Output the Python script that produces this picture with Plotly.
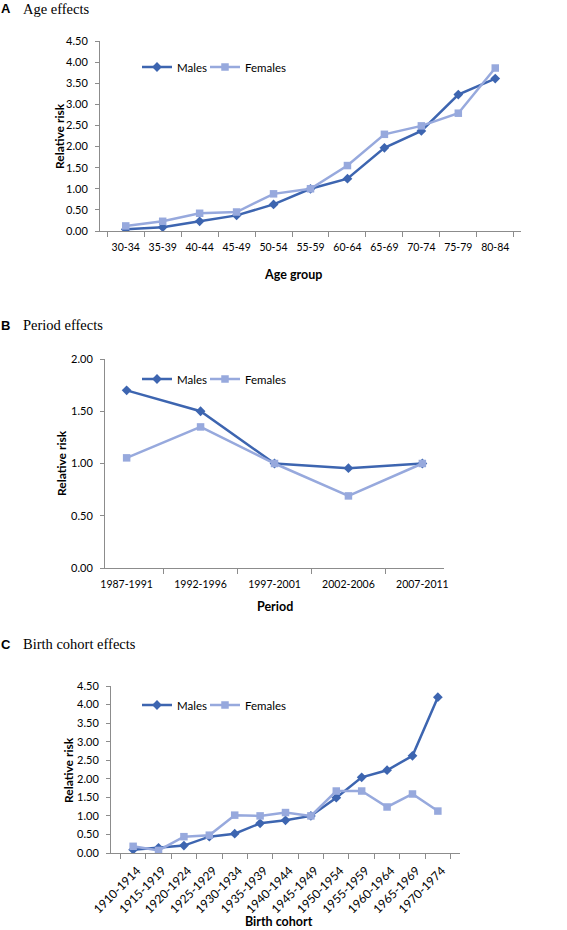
import plotly.graph_objects as go

age_groups = ["30-34", "35-39", "40-44", "45-49", "50-54", "55-59", "60-64", "65-69", "70-74", "75-79", "80-84"]
age_males = [0.04, 0.09, 0.23, 0.37, 0.63, 1.00, 1.24, 1.97, 2.37, 3.23, 3.61]
age_females = [0.12, 0.23, 0.42, 0.45, 0.88, 1.00, 1.55, 2.29, 2.49, 2.79, 3.86]

periods = ["1987-1991", "1992-1996", "1997-2001", "2002-2006", "2007-2011"]
period_males = [1.70, 1.50, 1.00, 0.955, 1.00]
period_females = [1.054, 1.35, 1.00, 0.69, 1.00]

cohorts = ["1910-1914", "1915-1919", "1920-1924", "1925-1929", "1930-1934", "1935-1939", "1940-1944",
           "1945-1949", "1950-1954", "1955-1959", "1960-1964", "1965-1969", "1970-1974"]
cohort_males = [0.09, 0.14, 0.20, 0.44, 0.52, 0.80, 0.88, 1.00, 1.49, 2.04, 2.23, 2.62, 4.20]
cohort_females = [0.18, 0.07, 0.44, 0.48, 1.02, 1.00, 1.09, 1.00, 1.67, 1.67, 1.24, 1.59, 1.13]

MALE = "#3D65B0"
FEMALE = "#97A9DD"
AXIS = "#8C8C8C"
W, H = 567, 930
SANS = "Lato, 'Open Sans', sans-serif"

fig = go.Figure()

panels = [
    ("", age_groups, age_males, age_females, "legend"),
    ("2", periods, period_males, period_females, "legend2"),
    ("3", cohorts, cohort_males, cohort_females, "legend3"),
]
for suf, cats, m, f, leg in panels:
    fig.add_trace(go.Scatter(x=cats, y=m, name="Males", mode="lines+markers",
                             line=dict(color=MALE, width=2.5),
                             marker=dict(symbol="diamond", size=7.5, color=MALE),
                             xaxis="x" + suf, yaxis="y" + suf, legend=leg, legendwidth=23))
    fig.add_trace(go.Scatter(x=cats, y=f, name="Females", mode="lines+markers",
                             line=dict(color=FEMALE, width=2.5),
                             marker=dict(symbol="square", size=7.5, color=FEMALE),
                             xaxis="x" + suf, yaxis="y" + suf, legend=leg, legendwidth=60))


def px_x(p):
    return p / W


def px_y(p):
    return 1 - p / H


def xax(d0, d1, anchor, angle=0, standoff=6, size=10.5, shift=0):
    return dict(domain=[px_x(d0), px_x(d1)], anchor=anchor, type="category", automargin=False,
                showline=True, linecolor=AXIS, linewidth=1, showgrid=False, zeroline=False,
                ticks="outside", tickson="boundaries", ticklen=5, tickcolor=AXIS,
                ticklabelstandoff=standoff, ticklabelshift=shift,
                tickfont=dict(family=SANS, size=size, color="#000"), tickangle=angle)


def yax(d0, d1, anchor, ymax):
    return dict(domain=[px_y(d1), px_y(d0)], anchor=anchor, range=[0, ymax], dtick=0.5,
                tickformat=".2f", showline=True, linecolor=AXIS, linewidth=1, showgrid=False,
                automargin=False, zeroline=False, ticks="outside", ticklen=4, tickcolor=AXIS,
                ticklabelstandoff=5,
                tickfont=dict(family=SANS, size=11, color="#000"))


def legend(x, y):
    return dict(orientation="h", x=px_x(x), y=px_y(y), xanchor="left", yanchor="middle",
                bgcolor="rgba(0,0,0,0)", font=dict(family=SANS, size=11.5, color="#000"),
                itemwidth=30, tracegroupgap=0, traceorder="normal")


fig.update_layout(
    width=W, height=H, margin=dict(l=0, r=0, t=0, b=0, autoexpand=False),
    paper_bgcolor="white", plot_bgcolor="white", showlegend=True,
    xaxis=xax(100, 521, "y"),
    yaxis=yax(41, 231, "x", 4.5),
    xaxis2=xax(105, 444, "y2"),
    yaxis2=yax(359, 568, "x2", 2.0),
    xaxis3=xax(111, 460, "y3", angle=-45, standoff=5, size=12, shift=4),
    yaxis3=yax(686, 853, "x3", 4.5),
    legend=legend(137, 67),
    legend2=legend(137, 379),
    legend3=legend(137, 705),
)

# axis titles
TFONT = dict(family=SANS, size=12.5, color="#000", weight="bold")
xtitles = [("Age group", 293, 274), ("Period", 275, 606), ("Birth cohort", 279, 921)]
for txt, x, y in xtitles:
    fig.add_annotation(xref="paper", yref="paper", x=px_x(x), y=px_y(y), xanchor="center",
                       yanchor="middle", showarrow=False, text=txt, font=TFONT)
ytitles = [(59, 136), (62, 463), (68, 770)]
for x, y in ytitles:
    fig.add_annotation(xref="paper", yref="paper", x=px_x(x), y=px_y(y), xanchor="center",
                       yanchor="middle", showarrow=False, text="Relative risk", textangle=-90,
                       font=dict(family=SANS, size=12, color="#000", weight="bold"))

titles = [("A", "Age effects", 9), ("B", "Period effects", 325), ("C", "Birth cohort effects", 644)]
for letter, txt, y in titles:
    fig.add_annotation(xref="paper", yref="paper", x=px_x(0), y=px_y(y), xanchor="left", yanchor="middle",
                       showarrow=False, text="<b>%s</b>" % letter, xshift=-1,
                       font=dict(family="Liberation Sans, Arial, sans-serif", size=13, color="#000"))
    fig.add_annotation(xref="paper", yref="paper", x=px_x(21), y=px_y(y), xanchor="left", yanchor="middle",
                       showarrow=False, text=txt,
                       font=dict(family="Liberation Serif, 'Times New Roman', serif", size=14.5, color="#000"))

fig.write_html("out.html", config={"displayModeBar": False},
               post_script="document.body.style.margin='0px';")
